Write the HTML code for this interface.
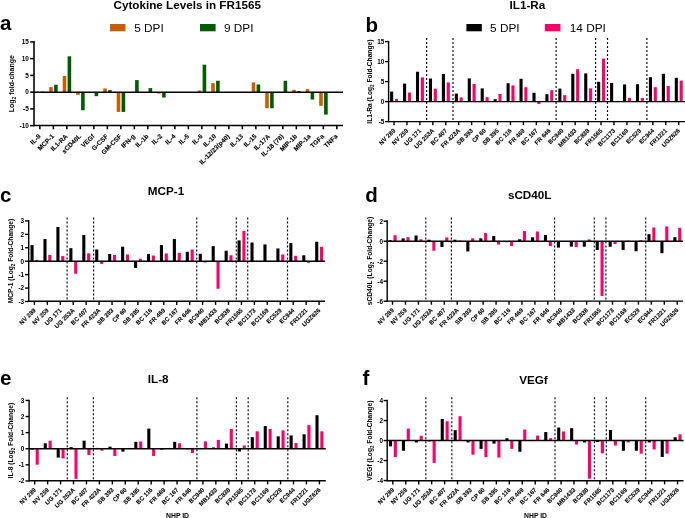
<!DOCTYPE html>
<html><head><meta charset="utf-8"><style>
html,body{margin:0;padding:0;background:#fff;width:685px;height:518px;overflow:hidden}
svg{display:block;font-family:"Liberation Sans", sans-serif;will-change:transform}
.xl{stroke:#000;stroke-width:0.1px}
</style></head><body>
<svg width="685" height="518" viewBox="0 0 685 518">
<rect width="685" height="518" fill="#fff"/>
<rect x="35.70" y="91.65" width="3.60" height="0.50" fill="#c46000"/>
<rect x="40.60" y="91.65" width="3.60" height="0.50" fill="#005a00"/>
<rect x="49.20" y="87.12" width="3.60" height="5.03" fill="#c46000"/>
<rect x="54.10" y="84.78" width="3.60" height="7.37" fill="#005a00"/>
<rect x="62.70" y="75.90" width="3.60" height="16.25" fill="#c46000"/>
<rect x="67.60" y="56.31" width="3.60" height="35.84" fill="#005a00"/>
<rect x="76.20" y="92.15" width="3.60" height="2.68" fill="#c46000"/>
<rect x="81.10" y="92.15" width="3.60" height="18.09" fill="#005a00"/>
<rect x="89.70" y="92.15" width="3.60" height="0.00" fill="#c46000"/>
<rect x="94.60" y="92.15" width="3.60" height="4.02" fill="#005a00"/>
<rect x="103.20" y="88.47" width="3.60" height="3.69" fill="#c46000"/>
<rect x="108.10" y="90.14" width="3.60" height="2.01" fill="#005a00"/>
<rect x="116.70" y="92.15" width="3.60" height="19.77" fill="#c46000"/>
<rect x="121.60" y="92.15" width="3.60" height="19.77" fill="#005a00"/>
<rect x="130.20" y="92.15" width="3.60" height="0.00" fill="#c46000"/>
<rect x="135.10" y="80.09" width="3.60" height="12.06" fill="#005a00"/>
<rect x="143.70" y="92.15" width="3.60" height="0.00" fill="#c46000"/>
<rect x="148.60" y="88.13" width="3.60" height="4.02" fill="#005a00"/>
<rect x="157.20" y="92.15" width="3.60" height="1.34" fill="#c46000"/>
<rect x="162.10" y="92.15" width="3.60" height="5.36" fill="#005a00"/>
<rect x="170.70" y="92.15" width="3.60" height="0.00" fill="#c46000"/>
<rect x="175.60" y="92.15" width="3.60" height="0.00" fill="#005a00"/>
<rect x="184.20" y="92.15" width="3.60" height="0.00" fill="#c46000"/>
<rect x="189.10" y="92.15" width="3.60" height="0.00" fill="#005a00"/>
<rect x="197.70" y="90.48" width="3.60" height="1.68" fill="#c46000"/>
<rect x="202.60" y="64.68" width="3.60" height="27.47" fill="#005a00"/>
<rect x="211.20" y="83.11" width="3.60" height="9.05" fill="#c46000"/>
<rect x="216.10" y="80.76" width="3.60" height="11.39" fill="#005a00"/>
<rect x="224.70" y="92.15" width="3.60" height="0.00" fill="#c46000"/>
<rect x="229.60" y="92.15" width="3.60" height="0.00" fill="#005a00"/>
<rect x="238.20" y="92.15" width="3.60" height="0.00" fill="#c46000"/>
<rect x="243.10" y="92.15" width="3.60" height="0.00" fill="#005a00"/>
<rect x="251.70" y="82.44" width="3.60" height="9.71" fill="#c46000"/>
<rect x="256.60" y="84.45" width="3.60" height="7.70" fill="#005a00"/>
<rect x="265.20" y="92.15" width="3.60" height="16.08" fill="#c46000"/>
<rect x="270.10" y="92.15" width="3.60" height="16.08" fill="#005a00"/>
<rect x="278.70" y="92.15" width="3.60" height="0.00" fill="#c46000"/>
<rect x="283.60" y="80.76" width="3.60" height="11.39" fill="#005a00"/>
<rect x="292.20" y="89.81" width="3.60" height="2.34" fill="#c46000"/>
<rect x="297.10" y="91.15" width="3.60" height="1.00" fill="#005a00"/>
<rect x="305.70" y="89.14" width="3.60" height="3.02" fill="#c46000"/>
<rect x="310.60" y="92.15" width="3.60" height="7.37" fill="#005a00"/>
<rect x="319.20" y="92.15" width="3.60" height="13.73" fill="#c46000"/>
<rect x="324.10" y="92.15" width="3.60" height="22.45" fill="#005a00"/>
<rect x="332.70" y="92.15" width="3.60" height="0.00" fill="#c46000"/>
<rect x="337.60" y="92.15" width="3.60" height="0.00" fill="#005a00"/>
<line x1="34.00" y1="41.08" x2="34.00" y2="126.28" stroke="#000" stroke-width="1.55" />
<line x1="34.00" y1="125.50" x2="343.00" y2="125.50" stroke="#000" stroke-width="1.55" />
<line x1="34.00" y1="92.15" x2="343.00" y2="92.15" stroke="#000" stroke-width="1.55" />
<line x1="30.20" y1="41.90" x2="34.00" y2="41.90" stroke="#000" stroke-width="1.55" />
<text x="28.80" y="44.20" font-size="6.4" font-weight="bold" text-anchor="end" >15</text>
<line x1="30.20" y1="58.65" x2="34.00" y2="58.65" stroke="#000" stroke-width="1.55" />
<text x="28.80" y="60.95" font-size="6.4" font-weight="bold" text-anchor="end" >10</text>
<line x1="30.20" y1="75.40" x2="34.00" y2="75.40" stroke="#000" stroke-width="1.55" />
<text x="28.80" y="77.70" font-size="6.4" font-weight="bold" text-anchor="end" >5</text>
<line x1="30.20" y1="92.15" x2="34.00" y2="92.15" stroke="#000" stroke-width="1.55" />
<text x="28.80" y="94.45" font-size="6.4" font-weight="bold" text-anchor="end" >0</text>
<line x1="30.20" y1="108.90" x2="34.00" y2="108.90" stroke="#000" stroke-width="1.55" />
<text x="28.80" y="111.20" font-size="6.4" font-weight="bold" text-anchor="end" >-5</text>
<line x1="30.20" y1="125.65" x2="34.00" y2="125.65" stroke="#000" stroke-width="1.55" />
<text x="28.80" y="127.95" font-size="6.4" font-weight="bold" text-anchor="end" >-10</text>
<line x1="39.85" y1="125.50" x2="39.85" y2="129.30" stroke="#000" stroke-width="1.55" />
<text x="41.05" y="136.80" font-size="6.5" font-weight="bold" text-anchor="end" class="xl" transform="rotate(-45 41.05 136.80)">IL-8</text>
<line x1="53.35" y1="125.50" x2="53.35" y2="129.30" stroke="#000" stroke-width="1.55" />
<text x="54.55" y="136.80" font-size="6.5" font-weight="bold" text-anchor="end" class="xl" transform="rotate(-45 54.55 136.80)">MCP-1</text>
<line x1="66.85" y1="125.50" x2="66.85" y2="129.30" stroke="#000" stroke-width="1.55" />
<text x="68.05" y="136.80" font-size="6.5" font-weight="bold" text-anchor="end" class="xl" transform="rotate(-45 68.05 136.80)">IL1-RA</text>
<line x1="80.35" y1="125.50" x2="80.35" y2="129.30" stroke="#000" stroke-width="1.55" />
<text x="81.55" y="136.80" font-size="6.5" font-weight="bold" text-anchor="end" class="xl" transform="rotate(-45 81.55 136.80)">sCD40L</text>
<line x1="93.85" y1="125.50" x2="93.85" y2="129.30" stroke="#000" stroke-width="1.55" />
<text x="95.05" y="136.80" font-size="6.5" font-weight="bold" text-anchor="end" class="xl" transform="rotate(-45 95.05 136.80)">VEGf</text>
<line x1="107.35" y1="125.50" x2="107.35" y2="129.30" stroke="#000" stroke-width="1.55" />
<text x="108.55" y="136.80" font-size="6.5" font-weight="bold" text-anchor="end" class="xl" transform="rotate(-45 108.55 136.80)">G-CSF</text>
<line x1="120.85" y1="125.50" x2="120.85" y2="129.30" stroke="#000" stroke-width="1.55" />
<text x="122.05" y="136.80" font-size="6.5" font-weight="bold" text-anchor="end" class="xl" transform="rotate(-45 122.05 136.80)">GM-CSF</text>
<line x1="134.35" y1="125.50" x2="134.35" y2="129.30" stroke="#000" stroke-width="1.55" />
<text x="135.55" y="136.80" font-size="6.5" font-weight="bold" text-anchor="end" class="xl" transform="rotate(-45 135.55 136.80)">IFN-g</text>
<line x1="147.85" y1="125.50" x2="147.85" y2="129.30" stroke="#000" stroke-width="1.55" />
<text x="149.05" y="136.80" font-size="6.5" font-weight="bold" text-anchor="end" class="xl" transform="rotate(-45 149.05 136.80)">IL-1b</text>
<line x1="161.35" y1="125.50" x2="161.35" y2="129.30" stroke="#000" stroke-width="1.55" />
<text x="162.55" y="136.80" font-size="6.5" font-weight="bold" text-anchor="end" class="xl" transform="rotate(-45 162.55 136.80)">IL-2</text>
<line x1="174.85" y1="125.50" x2="174.85" y2="129.30" stroke="#000" stroke-width="1.55" />
<text x="176.05" y="136.80" font-size="6.5" font-weight="bold" text-anchor="end" class="xl" transform="rotate(-45 176.05 136.80)">IL-4</text>
<line x1="188.35" y1="125.50" x2="188.35" y2="129.30" stroke="#000" stroke-width="1.55" />
<text x="189.55" y="136.80" font-size="6.5" font-weight="bold" text-anchor="end" class="xl" transform="rotate(-45 189.55 136.80)">IL-5</text>
<line x1="201.85" y1="125.50" x2="201.85" y2="129.30" stroke="#000" stroke-width="1.55" />
<text x="203.05" y="136.80" font-size="6.5" font-weight="bold" text-anchor="end" class="xl" transform="rotate(-45 203.05 136.80)">IL-6</text>
<line x1="215.35" y1="125.50" x2="215.35" y2="129.30" stroke="#000" stroke-width="1.55" />
<text x="216.55" y="136.80" font-size="6.5" font-weight="bold" text-anchor="end" class="xl" transform="rotate(-45 216.55 136.80)">IL-10</text>
<line x1="228.85" y1="125.50" x2="228.85" y2="129.30" stroke="#000" stroke-width="1.55" />
<text x="230.05" y="136.80" font-size="6.5" font-weight="bold" text-anchor="end" class="xl" transform="rotate(-45 230.05 136.80)">IL-12/23(p40)</text>
<line x1="242.35" y1="125.50" x2="242.35" y2="129.30" stroke="#000" stroke-width="1.55" />
<text x="243.55" y="136.80" font-size="6.5" font-weight="bold" text-anchor="end" class="xl" transform="rotate(-45 243.55 136.80)">IL-13</text>
<line x1="255.85" y1="125.50" x2="255.85" y2="129.30" stroke="#000" stroke-width="1.55" />
<text x="257.05" y="136.80" font-size="6.5" font-weight="bold" text-anchor="end" class="xl" transform="rotate(-45 257.05 136.80)">IL-15</text>
<line x1="269.35" y1="125.50" x2="269.35" y2="129.30" stroke="#000" stroke-width="1.55" />
<text x="270.55" y="136.80" font-size="6.5" font-weight="bold" text-anchor="end" class="xl" transform="rotate(-45 270.55 136.80)">IL-17A</text>
<line x1="282.85" y1="125.50" x2="282.85" y2="129.30" stroke="#000" stroke-width="1.55" />
<text x="284.05" y="136.80" font-size="6.5" font-weight="bold" text-anchor="end" class="xl" transform="rotate(-45 284.05 136.80)">IL-18 (78)</text>
<line x1="296.35" y1="125.50" x2="296.35" y2="129.30" stroke="#000" stroke-width="1.55" />
<text x="297.55" y="136.80" font-size="6.5" font-weight="bold" text-anchor="end" class="xl" transform="rotate(-45 297.55 136.80)">MIP-1b</text>
<line x1="309.85" y1="125.50" x2="309.85" y2="129.30" stroke="#000" stroke-width="1.55" />
<text x="311.05" y="136.80" font-size="6.5" font-weight="bold" text-anchor="end" class="xl" transform="rotate(-45 311.05 136.80)">MIP-1a</text>
<line x1="323.35" y1="125.50" x2="323.35" y2="129.30" stroke="#000" stroke-width="1.55" />
<text x="324.55" y="136.80" font-size="6.5" font-weight="bold" text-anchor="end" class="xl" transform="rotate(-45 324.55 136.80)">TGFa</text>
<line x1="336.85" y1="125.50" x2="336.85" y2="129.30" stroke="#000" stroke-width="1.55" />
<text x="338.05" y="136.80" font-size="6.5" font-weight="bold" text-anchor="end" class="xl" transform="rotate(-45 338.05 136.80)">TNFa</text>
<text x="14.00" y="83.67" font-size="7.0" font-weight="bold" text-anchor="middle" transform="rotate(-90 14.00 83.67)">Log<tspan font-size="4.9" dy="2.1">2</tspan><tspan dy="-2.1"> fold-change</tspan></text>
<rect x="390.10" y="91.60" width="3.10" height="10.00" fill="#000000"/>
<rect x="394.95" y="99.00" width="3.10" height="2.60" fill="#ff0066"/>
<rect x="403.04" y="83.60" width="3.10" height="18.00" fill="#000000"/>
<rect x="407.89" y="92.56" width="3.10" height="9.04" fill="#ff0066"/>
<rect x="415.98" y="71.76" width="3.10" height="29.84" fill="#000000"/>
<rect x="420.83" y="77.40" width="3.10" height="24.20" fill="#ff0066"/>
<rect x="428.92" y="78.52" width="3.10" height="23.08" fill="#000000"/>
<rect x="433.77" y="88.68" width="3.10" height="12.92" fill="#ff0066"/>
<rect x="441.86" y="74.00" width="3.10" height="27.60" fill="#000000"/>
<rect x="446.71" y="82.40" width="3.10" height="19.20" fill="#ff0066"/>
<rect x="454.80" y="93.60" width="3.10" height="8.00" fill="#000000"/>
<rect x="459.65" y="97.40" width="3.10" height="4.20" fill="#ff0066"/>
<rect x="467.74" y="78.40" width="3.10" height="23.20" fill="#000000"/>
<rect x="472.59" y="84.00" width="3.10" height="17.60" fill="#ff0066"/>
<rect x="480.68" y="88.40" width="3.10" height="13.20" fill="#000000"/>
<rect x="485.53" y="97.20" width="3.10" height="4.40" fill="#ff0066"/>
<rect x="493.62" y="99.20" width="3.10" height="2.40" fill="#000000"/>
<rect x="498.47" y="94.00" width="3.10" height="7.60" fill="#ff0066"/>
<rect x="506.56" y="83.20" width="3.10" height="18.40" fill="#000000"/>
<rect x="511.41" y="85.40" width="3.10" height="16.20" fill="#ff0066"/>
<rect x="519.50" y="78.80" width="3.10" height="22.80" fill="#000000"/>
<rect x="524.35" y="87.20" width="3.10" height="14.40" fill="#ff0066"/>
<rect x="532.44" y="92.80" width="3.10" height="8.80" fill="#000000"/>
<rect x="537.29" y="101.60" width="3.10" height="2.40" fill="#ff0066"/>
<rect x="545.38" y="94.20" width="3.10" height="7.40" fill="#000000"/>
<rect x="550.23" y="90.20" width="3.10" height="11.40" fill="#ff0066"/>
<rect x="558.32" y="88.60" width="3.10" height="13.00" fill="#000000"/>
<rect x="563.17" y="95.20" width="3.10" height="6.40" fill="#ff0066"/>
<rect x="571.26" y="73.80" width="3.10" height="27.80" fill="#000000"/>
<rect x="576.11" y="69.20" width="3.10" height="32.40" fill="#ff0066"/>
<rect x="584.20" y="73.40" width="3.10" height="28.20" fill="#000000"/>
<rect x="589.05" y="88.40" width="3.10" height="13.20" fill="#ff0066"/>
<rect x="597.14" y="81.80" width="3.10" height="19.80" fill="#000000"/>
<rect x="601.99" y="58.60" width="3.10" height="43.00" fill="#ff0066"/>
<rect x="610.08" y="83.00" width="3.10" height="18.60" fill="#000000"/>
<rect x="614.93" y="101.60" width="3.10" height="0.48" fill="#ff0066"/>
<rect x="623.02" y="84.40" width="3.10" height="17.20" fill="#000000"/>
<rect x="627.87" y="97.80" width="3.10" height="3.80" fill="#ff0066"/>
<rect x="635.96" y="84.20" width="3.10" height="17.40" fill="#000000"/>
<rect x="640.81" y="98.00" width="3.10" height="3.60" fill="#ff0066"/>
<rect x="648.90" y="77.20" width="3.10" height="24.40" fill="#000000"/>
<rect x="653.75" y="87.20" width="3.10" height="14.40" fill="#ff0066"/>
<rect x="661.84" y="73.80" width="3.10" height="27.80" fill="#000000"/>
<rect x="666.69" y="86.00" width="3.10" height="15.60" fill="#ff0066"/>
<rect x="674.78" y="77.80" width="3.10" height="23.80" fill="#000000"/>
<rect x="679.63" y="80.60" width="3.10" height="21.00" fill="#ff0066"/>
<line x1="426.60" y1="38.00" x2="426.60" y2="121.60" stroke="#111" stroke-width="1.2" stroke-dasharray="2 2"/>
<line x1="453.00" y1="38.00" x2="453.00" y2="121.60" stroke="#111" stroke-width="1.2" stroke-dasharray="2 2"/>
<line x1="556.10" y1="38.00" x2="556.10" y2="121.60" stroke="#111" stroke-width="1.2" stroke-dasharray="2 2"/>
<line x1="595.60" y1="38.00" x2="595.60" y2="121.60" stroke="#111" stroke-width="1.2" stroke-dasharray="2 2"/>
<line x1="607.50" y1="38.00" x2="607.50" y2="121.60" stroke="#111" stroke-width="1.2" stroke-dasharray="2 2"/>
<line x1="646.90" y1="38.00" x2="646.90" y2="121.60" stroke="#111" stroke-width="1.2" stroke-dasharray="2 2"/>
<line x1="388.60" y1="40.90" x2="388.60" y2="122.30" stroke="#000" stroke-width="1.4" />
<line x1="388.60" y1="121.60" x2="685.00" y2="121.60" stroke="#000" stroke-width="1.4" />
<line x1="388.60" y1="101.60" x2="685.00" y2="101.60" stroke="#000" stroke-width="1.4" />
<line x1="385.00" y1="41.60" x2="388.60" y2="41.60" stroke="#000" stroke-width="1.4" />
<text x="384.40" y="43.90" font-size="6.4" font-weight="bold" text-anchor="end" >15</text>
<line x1="385.00" y1="61.60" x2="388.60" y2="61.60" stroke="#000" stroke-width="1.4" />
<text x="384.40" y="63.90" font-size="6.4" font-weight="bold" text-anchor="end" >10</text>
<line x1="385.00" y1="81.60" x2="388.60" y2="81.60" stroke="#000" stroke-width="1.4" />
<text x="384.40" y="83.90" font-size="6.4" font-weight="bold" text-anchor="end" >5</text>
<line x1="385.00" y1="101.60" x2="388.60" y2="101.60" stroke="#000" stroke-width="1.4" />
<text x="384.40" y="103.90" font-size="6.4" font-weight="bold" text-anchor="end" >0</text>
<line x1="385.00" y1="121.60" x2="388.60" y2="121.60" stroke="#000" stroke-width="1.4" />
<text x="384.40" y="123.90" font-size="6.4" font-weight="bold" text-anchor="end" >-5</text>
<line x1="394.00" y1="121.60" x2="394.00" y2="125.20" stroke="#000" stroke-width="1.4" />
<text x="395.80" y="131.10" font-size="6.1" font-weight="bold" text-anchor="end" class="xl" transform="rotate(-45 395.80 131.10)">NV 289</text>
<line x1="406.94" y1="121.60" x2="406.94" y2="125.20" stroke="#000" stroke-width="1.4" />
<text x="408.74" y="131.10" font-size="6.1" font-weight="bold" text-anchor="end" class="xl" transform="rotate(-45 408.74 131.10)">NV 259</text>
<line x1="419.88" y1="121.60" x2="419.88" y2="125.20" stroke="#000" stroke-width="1.4" />
<text x="421.68" y="131.10" font-size="6.1" font-weight="bold" text-anchor="end" class="xl" transform="rotate(-45 421.68 131.10)">UG 171</text>
<line x1="432.82" y1="121.60" x2="432.82" y2="125.20" stroke="#000" stroke-width="1.4" />
<text x="434.62" y="131.10" font-size="6.1" font-weight="bold" text-anchor="end" class="xl" transform="rotate(-45 434.62 131.10)">UG 253A</text>
<line x1="445.76" y1="121.60" x2="445.76" y2="125.20" stroke="#000" stroke-width="1.4" />
<text x="447.56" y="131.10" font-size="6.1" font-weight="bold" text-anchor="end" class="xl" transform="rotate(-45 447.56 131.10)">BC 407</text>
<line x1="458.70" y1="121.60" x2="458.70" y2="125.20" stroke="#000" stroke-width="1.4" />
<text x="460.50" y="131.10" font-size="6.1" font-weight="bold" text-anchor="end" class="xl" transform="rotate(-45 460.50 131.10)">FR 423A</text>
<line x1="471.64" y1="121.60" x2="471.64" y2="125.20" stroke="#000" stroke-width="1.4" />
<text x="473.44" y="131.10" font-size="6.1" font-weight="bold" text-anchor="end" class="xl" transform="rotate(-45 473.44 131.10)">SB 393</text>
<line x1="484.58" y1="121.60" x2="484.58" y2="125.20" stroke="#000" stroke-width="1.4" />
<text x="486.38" y="131.10" font-size="6.1" font-weight="bold" text-anchor="end" class="xl" transform="rotate(-45 486.38 131.10)">CP 60</text>
<line x1="497.52" y1="121.60" x2="497.52" y2="125.20" stroke="#000" stroke-width="1.4" />
<text x="499.32" y="131.10" font-size="6.1" font-weight="bold" text-anchor="end" class="xl" transform="rotate(-45 499.32 131.10)">SB 395</text>
<line x1="510.46" y1="121.60" x2="510.46" y2="125.20" stroke="#000" stroke-width="1.4" />
<text x="512.26" y="131.10" font-size="6.1" font-weight="bold" text-anchor="end" class="xl" transform="rotate(-45 512.26 131.10)">BC 116</text>
<line x1="523.40" y1="121.60" x2="523.40" y2="125.20" stroke="#000" stroke-width="1.4" />
<text x="525.20" y="131.10" font-size="6.1" font-weight="bold" text-anchor="end" class="xl" transform="rotate(-45 525.20 131.10)">FR 469</text>
<line x1="536.34" y1="121.60" x2="536.34" y2="125.20" stroke="#000" stroke-width="1.4" />
<text x="538.14" y="131.10" font-size="6.1" font-weight="bold" text-anchor="end" class="xl" transform="rotate(-45 538.14 131.10)">BC 167</text>
<line x1="549.28" y1="121.60" x2="549.28" y2="125.20" stroke="#000" stroke-width="1.4" />
<text x="551.08" y="131.10" font-size="6.1" font-weight="bold" text-anchor="end" class="xl" transform="rotate(-45 551.08 131.10)">FR 646</text>
<line x1="562.22" y1="121.60" x2="562.22" y2="125.20" stroke="#000" stroke-width="1.4" />
<text x="564.02" y="131.10" font-size="6.1" font-weight="bold" text-anchor="end" class="xl" transform="rotate(-45 564.02 131.10)">BC940</text>
<line x1="575.16" y1="121.60" x2="575.16" y2="125.20" stroke="#000" stroke-width="1.4" />
<text x="576.96" y="131.10" font-size="6.1" font-weight="bold" text-anchor="end" class="xl" transform="rotate(-45 576.96 131.10)">MB1433</text>
<line x1="588.10" y1="121.60" x2="588.10" y2="125.20" stroke="#000" stroke-width="1.4" />
<text x="589.90" y="131.10" font-size="6.1" font-weight="bold" text-anchor="end" class="xl" transform="rotate(-45 589.90 131.10)">BC838</text>
<line x1="601.04" y1="121.60" x2="601.04" y2="125.20" stroke="#000" stroke-width="1.4" />
<text x="602.84" y="131.10" font-size="6.1" font-weight="bold" text-anchor="end" class="xl" transform="rotate(-45 602.84 131.10)">FR1565</text>
<line x1="613.98" y1="121.60" x2="613.98" y2="125.20" stroke="#000" stroke-width="1.4" />
<text x="615.78" y="131.10" font-size="6.1" font-weight="bold" text-anchor="end" class="xl" transform="rotate(-45 615.78 131.10)">BC1173</text>
<line x1="626.92" y1="121.60" x2="626.92" y2="125.20" stroke="#000" stroke-width="1.4" />
<text x="628.72" y="131.10" font-size="6.1" font-weight="bold" text-anchor="end" class="xl" transform="rotate(-45 628.72 131.10)">BC1169</text>
<line x1="639.86" y1="121.60" x2="639.86" y2="125.20" stroke="#000" stroke-width="1.4" />
<text x="641.66" y="131.10" font-size="6.1" font-weight="bold" text-anchor="end" class="xl" transform="rotate(-45 641.66 131.10)">EC529</text>
<line x1="652.80" y1="121.60" x2="652.80" y2="125.20" stroke="#000" stroke-width="1.4" />
<text x="654.60" y="131.10" font-size="6.1" font-weight="bold" text-anchor="end" class="xl" transform="rotate(-45 654.60 131.10)">EC944</text>
<line x1="665.74" y1="121.60" x2="665.74" y2="125.20" stroke="#000" stroke-width="1.4" />
<text x="667.54" y="131.10" font-size="6.1" font-weight="bold" text-anchor="end" class="xl" transform="rotate(-45 667.54 131.10)">FR1221</text>
<line x1="678.68" y1="121.60" x2="678.68" y2="125.20" stroke="#000" stroke-width="1.4" />
<text x="680.48" y="131.10" font-size="6.1" font-weight="bold" text-anchor="end" class="xl" transform="rotate(-45 680.48 131.10)">UGZ626</text>
<text x="372.00" y="81.60" font-size="6.7" font-weight="bold" text-anchor="middle" transform="rotate(-90 372.00 81.60)">IL1-Ra (Log<tspan font-size="4.42" dy="2.28">2</tspan><tspan dy="-2.28"> Fold-Change)</tspan></text>
<rect x="30.50" y="245.08" width="3.10" height="16.12" fill="#000000"/>
<rect x="35.35" y="259.86" width="3.10" height="1.34" fill="#ff0066"/>
<rect x="43.44" y="239.04" width="3.10" height="22.16" fill="#000000"/>
<rect x="48.29" y="255.02" width="3.10" height="6.18" fill="#ff0066"/>
<rect x="56.38" y="226.95" width="3.10" height="34.25" fill="#000000"/>
<rect x="61.23" y="256.10" width="3.10" height="5.10" fill="#ff0066"/>
<rect x="69.32" y="248.17" width="3.10" height="13.03" fill="#000000"/>
<rect x="74.17" y="261.20" width="3.10" height="12.49" fill="#ff0066"/>
<rect x="82.26" y="235.01" width="3.10" height="26.19" fill="#000000"/>
<rect x="87.11" y="253.41" width="3.10" height="7.79" fill="#ff0066"/>
<rect x="95.20" y="249.52" width="3.10" height="11.68" fill="#000000"/>
<rect x="100.05" y="261.20" width="3.10" height="2.69" fill="#ff0066"/>
<rect x="108.14" y="253.95" width="3.10" height="7.25" fill="#000000"/>
<rect x="112.99" y="255.02" width="3.10" height="6.18" fill="#ff0066"/>
<rect x="121.08" y="246.70" width="3.10" height="14.50" fill="#000000"/>
<rect x="125.93" y="254.48" width="3.10" height="6.71" fill="#ff0066"/>
<rect x="134.02" y="261.20" width="3.10" height="6.71" fill="#000000"/>
<rect x="138.87" y="258.78" width="3.10" height="2.42" fill="#ff0066"/>
<rect x="146.96" y="253.95" width="3.10" height="7.25" fill="#000000"/>
<rect x="151.81" y="255.56" width="3.10" height="5.64" fill="#ff0066"/>
<rect x="159.90" y="245.08" width="3.10" height="16.12" fill="#000000"/>
<rect x="164.75" y="253.41" width="3.10" height="7.79" fill="#ff0066"/>
<rect x="172.84" y="239.04" width="3.10" height="22.16" fill="#000000"/>
<rect x="177.69" y="252.87" width="3.10" height="8.33" fill="#ff0066"/>
<rect x="185.78" y="251.80" width="3.10" height="9.40" fill="#000000"/>
<rect x="190.63" y="249.52" width="3.10" height="11.68" fill="#ff0066"/>
<rect x="198.72" y="253.81" width="3.10" height="7.39" fill="#000000"/>
<rect x="203.57" y="261.20" width="3.10" height="1.34" fill="#ff0066"/>
<rect x="211.66" y="246.16" width="3.10" height="15.04" fill="#000000"/>
<rect x="216.51" y="261.20" width="3.10" height="27.53" fill="#ff0066"/>
<rect x="224.60" y="250.72" width="3.10" height="10.48" fill="#000000"/>
<rect x="229.45" y="255.29" width="3.10" height="5.91" fill="#ff0066"/>
<rect x="237.54" y="240.38" width="3.10" height="20.82" fill="#000000"/>
<rect x="242.39" y="230.98" width="3.10" height="30.22" fill="#ff0066"/>
<rect x="250.48" y="242.53" width="3.10" height="18.67" fill="#000000"/>
<rect x="255.33" y="260.93" width="3.10" height="0.27" fill="#ff0066"/>
<rect x="263.42" y="244.41" width="3.10" height="16.79" fill="#000000"/>
<rect x="268.27" y="260.93" width="3.10" height="0.27" fill="#ff0066"/>
<rect x="276.36" y="248.44" width="3.10" height="12.76" fill="#000000"/>
<rect x="281.21" y="254.48" width="3.10" height="6.71" fill="#ff0066"/>
<rect x="289.30" y="243.07" width="3.10" height="18.13" fill="#000000"/>
<rect x="294.15" y="255.83" width="3.10" height="5.37" fill="#ff0066"/>
<rect x="302.24" y="255.29" width="3.10" height="5.91" fill="#000000"/>
<rect x="307.09" y="261.20" width="3.10" height="1.61" fill="#ff0066"/>
<rect x="315.18" y="241.73" width="3.10" height="19.47" fill="#000000"/>
<rect x="320.03" y="246.83" width="3.10" height="14.37" fill="#ff0066"/>
<line x1="67.10" y1="217.50" x2="67.10" y2="301.30" stroke="#111" stroke-width="1.2" stroke-dasharray="2 2"/>
<line x1="93.60" y1="217.50" x2="93.60" y2="301.30" stroke="#111" stroke-width="1.2" stroke-dasharray="2 2"/>
<line x1="196.70" y1="217.50" x2="196.70" y2="301.30" stroke="#111" stroke-width="1.2" stroke-dasharray="2 2"/>
<line x1="236.30" y1="217.50" x2="236.30" y2="301.30" stroke="#111" stroke-width="1.2" stroke-dasharray="2 2"/>
<line x1="247.70" y1="217.50" x2="247.70" y2="301.30" stroke="#111" stroke-width="1.2" stroke-dasharray="2 2"/>
<line x1="287.50" y1="217.50" x2="287.50" y2="301.30" stroke="#111" stroke-width="1.2" stroke-dasharray="2 2"/>
<line x1="28.70" y1="220.10" x2="28.70" y2="302.00" stroke="#000" stroke-width="1.4" />
<line x1="28.70" y1="301.30" x2="325.00" y2="301.30" stroke="#000" stroke-width="1.4" />
<line x1="28.70" y1="261.20" x2="325.00" y2="261.20" stroke="#000" stroke-width="1.4" />
<line x1="25.10" y1="220.91" x2="28.70" y2="220.91" stroke="#000" stroke-width="1.4" />
<text x="24.10" y="223.21" font-size="6.4" font-weight="bold" text-anchor="end" >3</text>
<line x1="25.10" y1="234.34" x2="28.70" y2="234.34" stroke="#000" stroke-width="1.4" />
<text x="24.10" y="236.64" font-size="6.4" font-weight="bold" text-anchor="end" >2</text>
<line x1="25.10" y1="247.77" x2="28.70" y2="247.77" stroke="#000" stroke-width="1.4" />
<text x="24.10" y="250.07" font-size="6.4" font-weight="bold" text-anchor="end" >1</text>
<line x1="25.10" y1="261.20" x2="28.70" y2="261.20" stroke="#000" stroke-width="1.4" />
<text x="24.10" y="263.50" font-size="6.4" font-weight="bold" text-anchor="end" >0</text>
<line x1="25.10" y1="274.63" x2="28.70" y2="274.63" stroke="#000" stroke-width="1.4" />
<text x="24.10" y="276.93" font-size="6.4" font-weight="bold" text-anchor="end" >-1</text>
<line x1="25.10" y1="288.06" x2="28.70" y2="288.06" stroke="#000" stroke-width="1.4" />
<text x="24.10" y="290.36" font-size="6.4" font-weight="bold" text-anchor="end" >-2</text>
<line x1="25.10" y1="301.49" x2="28.70" y2="301.49" stroke="#000" stroke-width="1.4" />
<text x="24.10" y="303.79" font-size="6.4" font-weight="bold" text-anchor="end" >-3</text>
<line x1="34.40" y1="301.30" x2="34.40" y2="304.90" stroke="#000" stroke-width="1.4" />
<text x="36.20" y="310.80" font-size="6.1" font-weight="bold" text-anchor="end" class="xl" transform="rotate(-45 36.20 310.80)">NV 289</text>
<line x1="47.34" y1="301.30" x2="47.34" y2="304.90" stroke="#000" stroke-width="1.4" />
<text x="49.14" y="310.80" font-size="6.1" font-weight="bold" text-anchor="end" class="xl" transform="rotate(-45 49.14 310.80)">NV 259</text>
<line x1="60.28" y1="301.30" x2="60.28" y2="304.90" stroke="#000" stroke-width="1.4" />
<text x="62.08" y="310.80" font-size="6.1" font-weight="bold" text-anchor="end" class="xl" transform="rotate(-45 62.08 310.80)">UG 171</text>
<line x1="73.22" y1="301.30" x2="73.22" y2="304.90" stroke="#000" stroke-width="1.4" />
<text x="75.02" y="310.80" font-size="6.1" font-weight="bold" text-anchor="end" class="xl" transform="rotate(-45 75.02 310.80)">UG 253A</text>
<line x1="86.16" y1="301.30" x2="86.16" y2="304.90" stroke="#000" stroke-width="1.4" />
<text x="87.96" y="310.80" font-size="6.1" font-weight="bold" text-anchor="end" class="xl" transform="rotate(-45 87.96 310.80)">BC 407</text>
<line x1="99.10" y1="301.30" x2="99.10" y2="304.90" stroke="#000" stroke-width="1.4" />
<text x="100.90" y="310.80" font-size="6.1" font-weight="bold" text-anchor="end" class="xl" transform="rotate(-45 100.90 310.80)">FR 423A</text>
<line x1="112.04" y1="301.30" x2="112.04" y2="304.90" stroke="#000" stroke-width="1.4" />
<text x="113.84" y="310.80" font-size="6.1" font-weight="bold" text-anchor="end" class="xl" transform="rotate(-45 113.84 310.80)">SB 393</text>
<line x1="124.98" y1="301.30" x2="124.98" y2="304.90" stroke="#000" stroke-width="1.4" />
<text x="126.78" y="310.80" font-size="6.1" font-weight="bold" text-anchor="end" class="xl" transform="rotate(-45 126.78 310.80)">CP 60</text>
<line x1="137.92" y1="301.30" x2="137.92" y2="304.90" stroke="#000" stroke-width="1.4" />
<text x="139.72" y="310.80" font-size="6.1" font-weight="bold" text-anchor="end" class="xl" transform="rotate(-45 139.72 310.80)">SB 395</text>
<line x1="150.86" y1="301.30" x2="150.86" y2="304.90" stroke="#000" stroke-width="1.4" />
<text x="152.66" y="310.80" font-size="6.1" font-weight="bold" text-anchor="end" class="xl" transform="rotate(-45 152.66 310.80)">BC 116</text>
<line x1="163.80" y1="301.30" x2="163.80" y2="304.90" stroke="#000" stroke-width="1.4" />
<text x="165.60" y="310.80" font-size="6.1" font-weight="bold" text-anchor="end" class="xl" transform="rotate(-45 165.60 310.80)">FR 469</text>
<line x1="176.74" y1="301.30" x2="176.74" y2="304.90" stroke="#000" stroke-width="1.4" />
<text x="178.54" y="310.80" font-size="6.1" font-weight="bold" text-anchor="end" class="xl" transform="rotate(-45 178.54 310.80)">BC 167</text>
<line x1="189.68" y1="301.30" x2="189.68" y2="304.90" stroke="#000" stroke-width="1.4" />
<text x="191.48" y="310.80" font-size="6.1" font-weight="bold" text-anchor="end" class="xl" transform="rotate(-45 191.48 310.80)">FR 646</text>
<line x1="202.62" y1="301.30" x2="202.62" y2="304.90" stroke="#000" stroke-width="1.4" />
<text x="204.42" y="310.80" font-size="6.1" font-weight="bold" text-anchor="end" class="xl" transform="rotate(-45 204.42 310.80)">BC940</text>
<line x1="215.56" y1="301.30" x2="215.56" y2="304.90" stroke="#000" stroke-width="1.4" />
<text x="217.36" y="310.80" font-size="6.1" font-weight="bold" text-anchor="end" class="xl" transform="rotate(-45 217.36 310.80)">MB1433</text>
<line x1="228.50" y1="301.30" x2="228.50" y2="304.90" stroke="#000" stroke-width="1.4" />
<text x="230.30" y="310.80" font-size="6.1" font-weight="bold" text-anchor="end" class="xl" transform="rotate(-45 230.30 310.80)">BC838</text>
<line x1="241.44" y1="301.30" x2="241.44" y2="304.90" stroke="#000" stroke-width="1.4" />
<text x="243.24" y="310.80" font-size="6.1" font-weight="bold" text-anchor="end" class="xl" transform="rotate(-45 243.24 310.80)">FR1565</text>
<line x1="254.38" y1="301.30" x2="254.38" y2="304.90" stroke="#000" stroke-width="1.4" />
<text x="256.18" y="310.80" font-size="6.1" font-weight="bold" text-anchor="end" class="xl" transform="rotate(-45 256.18 310.80)">BC1173</text>
<line x1="267.32" y1="301.30" x2="267.32" y2="304.90" stroke="#000" stroke-width="1.4" />
<text x="269.12" y="310.80" font-size="6.1" font-weight="bold" text-anchor="end" class="xl" transform="rotate(-45 269.12 310.80)">BC1169</text>
<line x1="280.26" y1="301.30" x2="280.26" y2="304.90" stroke="#000" stroke-width="1.4" />
<text x="282.06" y="310.80" font-size="6.1" font-weight="bold" text-anchor="end" class="xl" transform="rotate(-45 282.06 310.80)">EC529</text>
<line x1="293.20" y1="301.30" x2="293.20" y2="304.90" stroke="#000" stroke-width="1.4" />
<text x="295.00" y="310.80" font-size="6.1" font-weight="bold" text-anchor="end" class="xl" transform="rotate(-45 295.00 310.80)">EC944</text>
<line x1="306.14" y1="301.30" x2="306.14" y2="304.90" stroke="#000" stroke-width="1.4" />
<text x="307.94" y="310.80" font-size="6.1" font-weight="bold" text-anchor="end" class="xl" transform="rotate(-45 307.94 310.80)">FR1221</text>
<line x1="319.08" y1="301.30" x2="319.08" y2="304.90" stroke="#000" stroke-width="1.4" />
<text x="320.88" y="310.80" font-size="6.1" font-weight="bold" text-anchor="end" class="xl" transform="rotate(-45 320.88 310.80)">UGZ626</text>
<text x="13.00" y="261.05" font-size="6.7" font-weight="bold" text-anchor="middle" transform="rotate(-90 13.00 261.05)">MCP-1 (Log<tspan font-size="4.42" dy="2.28">2</tspan><tspan dy="-2.28"> Fold-Change)</tspan></text>
<rect x="388.65" y="240.20" width="3.10" height="1.00" fill="#000000"/>
<rect x="393.50" y="235.20" width="3.10" height="6.00" fill="#ff0066"/>
<rect x="401.59" y="238.40" width="3.10" height="2.80" fill="#000000"/>
<rect x="406.44" y="237.20" width="3.10" height="4.00" fill="#ff0066"/>
<rect x="414.53" y="235.50" width="3.10" height="5.70" fill="#000000"/>
<rect x="419.38" y="239.30" width="3.10" height="1.90" fill="#ff0066"/>
<rect x="427.47" y="239.70" width="3.10" height="1.50" fill="#000000"/>
<rect x="432.32" y="241.20" width="3.10" height="9.50" fill="#ff0066"/>
<rect x="440.41" y="241.20" width="3.10" height="5.80" fill="#000000"/>
<rect x="445.26" y="237.40" width="3.10" height="3.80" fill="#ff0066"/>
<rect x="453.35" y="239.70" width="3.10" height="1.50" fill="#000000"/>
<rect x="458.20" y="240.50" width="3.10" height="0.70" fill="#ff0066"/>
<rect x="466.29" y="241.20" width="3.10" height="10.20" fill="#000000"/>
<rect x="471.14" y="238.30" width="3.10" height="2.90" fill="#ff0066"/>
<rect x="479.23" y="238.30" width="3.10" height="2.90" fill="#000000"/>
<rect x="484.08" y="233.10" width="3.10" height="8.10" fill="#ff0066"/>
<rect x="492.17" y="236.00" width="3.10" height="5.20" fill="#000000"/>
<rect x="497.02" y="241.20" width="3.10" height="3.30" fill="#ff0066"/>
<rect x="505.11" y="241.20" width="3.10" height="1.00" fill="#000000"/>
<rect x="509.96" y="241.20" width="3.10" height="4.80" fill="#ff0066"/>
<rect x="518.05" y="239.30" width="3.10" height="1.90" fill="#000000"/>
<rect x="522.90" y="231.10" width="3.10" height="10.10" fill="#ff0066"/>
<rect x="530.99" y="237.30" width="3.10" height="3.90" fill="#000000"/>
<rect x="535.84" y="231.50" width="3.10" height="9.70" fill="#ff0066"/>
<rect x="543.93" y="235.00" width="3.10" height="6.20" fill="#000000"/>
<rect x="548.78" y="241.20" width="3.10" height="4.80" fill="#ff0066"/>
<rect x="556.87" y="241.20" width="3.10" height="6.40" fill="#000000"/>
<rect x="561.72" y="241.20" width="3.10" height="0.50" fill="#ff0066"/>
<rect x="569.81" y="241.20" width="3.10" height="5.40" fill="#000000"/>
<rect x="574.66" y="241.20" width="3.10" height="5.80" fill="#ff0066"/>
<rect x="582.75" y="241.20" width="3.10" height="5.50" fill="#000000"/>
<rect x="587.60" y="239.40" width="3.10" height="1.80" fill="#ff0066"/>
<rect x="595.69" y="241.20" width="3.10" height="8.70" fill="#000000"/>
<rect x="600.54" y="241.20" width="3.10" height="54.70" fill="#ff0066"/>
<rect x="608.63" y="241.20" width="3.10" height="5.50" fill="#000000"/>
<rect x="613.48" y="241.20" width="3.10" height="2.80" fill="#ff0066"/>
<rect x="621.57" y="241.20" width="3.10" height="8.70" fill="#000000"/>
<rect x="626.42" y="240.70" width="3.10" height="0.50" fill="#ff0066"/>
<rect x="634.51" y="241.20" width="3.10" height="10.00" fill="#000000"/>
<rect x="639.36" y="240.20" width="3.10" height="1.00" fill="#ff0066"/>
<rect x="647.45" y="234.20" width="3.10" height="7.00" fill="#000000"/>
<rect x="652.30" y="227.50" width="3.10" height="13.70" fill="#ff0066"/>
<rect x="660.39" y="241.20" width="3.10" height="12.00" fill="#000000"/>
<rect x="665.24" y="226.40" width="3.10" height="14.80" fill="#ff0066"/>
<rect x="673.33" y="237.20" width="3.10" height="4.00" fill="#000000"/>
<rect x="678.18" y="227.80" width="3.10" height="13.40" fill="#ff0066"/>
<line x1="425.80" y1="217.50" x2="425.80" y2="301.10" stroke="#111" stroke-width="1.2" stroke-dasharray="2 2"/>
<line x1="451.40" y1="217.50" x2="451.40" y2="301.10" stroke="#111" stroke-width="1.2" stroke-dasharray="2 2"/>
<line x1="554.60" y1="217.50" x2="554.60" y2="301.10" stroke="#111" stroke-width="1.2" stroke-dasharray="2 2"/>
<line x1="594.30" y1="217.50" x2="594.30" y2="301.10" stroke="#111" stroke-width="1.2" stroke-dasharray="2 2"/>
<line x1="605.90" y1="217.50" x2="605.90" y2="301.10" stroke="#111" stroke-width="1.2" stroke-dasharray="2 2"/>
<line x1="645.70" y1="217.50" x2="645.70" y2="301.10" stroke="#111" stroke-width="1.2" stroke-dasharray="2 2"/>
<line x1="387.20" y1="220.20" x2="387.20" y2="301.80" stroke="#000" stroke-width="1.4" />
<line x1="387.20" y1="301.10" x2="683.00" y2="301.10" stroke="#000" stroke-width="1.4" />
<line x1="387.20" y1="241.20" x2="683.00" y2="241.20" stroke="#000" stroke-width="1.4" />
<line x1="383.60" y1="221.20" x2="387.20" y2="221.20" stroke="#000" stroke-width="1.4" />
<text x="383.00" y="223.50" font-size="6.4" font-weight="bold" text-anchor="end" >2</text>
<line x1="383.60" y1="241.20" x2="387.20" y2="241.20" stroke="#000" stroke-width="1.4" />
<text x="383.00" y="243.50" font-size="6.4" font-weight="bold" text-anchor="end" >0</text>
<line x1="383.60" y1="261.20" x2="387.20" y2="261.20" stroke="#000" stroke-width="1.4" />
<text x="383.00" y="263.50" font-size="6.4" font-weight="bold" text-anchor="end" >-2</text>
<line x1="383.60" y1="281.20" x2="387.20" y2="281.20" stroke="#000" stroke-width="1.4" />
<text x="383.00" y="283.50" font-size="6.4" font-weight="bold" text-anchor="end" >-4</text>
<line x1="383.60" y1="301.20" x2="387.20" y2="301.20" stroke="#000" stroke-width="1.4" />
<text x="383.00" y="303.50" font-size="6.4" font-weight="bold" text-anchor="end" >-6</text>
<line x1="392.55" y1="301.10" x2="392.55" y2="304.70" stroke="#000" stroke-width="1.4" />
<text x="394.35" y="310.60" font-size="6.1" font-weight="bold" text-anchor="end" class="xl" transform="rotate(-45 394.35 310.60)">NV 289</text>
<line x1="405.49" y1="301.10" x2="405.49" y2="304.70" stroke="#000" stroke-width="1.4" />
<text x="407.29" y="310.60" font-size="6.1" font-weight="bold" text-anchor="end" class="xl" transform="rotate(-45 407.29 310.60)">NV 259</text>
<line x1="418.43" y1="301.10" x2="418.43" y2="304.70" stroke="#000" stroke-width="1.4" />
<text x="420.23" y="310.60" font-size="6.1" font-weight="bold" text-anchor="end" class="xl" transform="rotate(-45 420.23 310.60)">UG 171</text>
<line x1="431.37" y1="301.10" x2="431.37" y2="304.70" stroke="#000" stroke-width="1.4" />
<text x="433.17" y="310.60" font-size="6.1" font-weight="bold" text-anchor="end" class="xl" transform="rotate(-45 433.17 310.60)">UG 253A</text>
<line x1="444.31" y1="301.10" x2="444.31" y2="304.70" stroke="#000" stroke-width="1.4" />
<text x="446.11" y="310.60" font-size="6.1" font-weight="bold" text-anchor="end" class="xl" transform="rotate(-45 446.11 310.60)">BC 407</text>
<line x1="457.25" y1="301.10" x2="457.25" y2="304.70" stroke="#000" stroke-width="1.4" />
<text x="459.05" y="310.60" font-size="6.1" font-weight="bold" text-anchor="end" class="xl" transform="rotate(-45 459.05 310.60)">FR 423A</text>
<line x1="470.19" y1="301.10" x2="470.19" y2="304.70" stroke="#000" stroke-width="1.4" />
<text x="471.99" y="310.60" font-size="6.1" font-weight="bold" text-anchor="end" class="xl" transform="rotate(-45 471.99 310.60)">SB 393</text>
<line x1="483.13" y1="301.10" x2="483.13" y2="304.70" stroke="#000" stroke-width="1.4" />
<text x="484.93" y="310.60" font-size="6.1" font-weight="bold" text-anchor="end" class="xl" transform="rotate(-45 484.93 310.60)">CP 60</text>
<line x1="496.07" y1="301.10" x2="496.07" y2="304.70" stroke="#000" stroke-width="1.4" />
<text x="497.87" y="310.60" font-size="6.1" font-weight="bold" text-anchor="end" class="xl" transform="rotate(-45 497.87 310.60)">SB 395</text>
<line x1="509.01" y1="301.10" x2="509.01" y2="304.70" stroke="#000" stroke-width="1.4" />
<text x="510.81" y="310.60" font-size="6.1" font-weight="bold" text-anchor="end" class="xl" transform="rotate(-45 510.81 310.60)">BC 116</text>
<line x1="521.95" y1="301.10" x2="521.95" y2="304.70" stroke="#000" stroke-width="1.4" />
<text x="523.75" y="310.60" font-size="6.1" font-weight="bold" text-anchor="end" class="xl" transform="rotate(-45 523.75 310.60)">FR 469</text>
<line x1="534.89" y1="301.10" x2="534.89" y2="304.70" stroke="#000" stroke-width="1.4" />
<text x="536.69" y="310.60" font-size="6.1" font-weight="bold" text-anchor="end" class="xl" transform="rotate(-45 536.69 310.60)">BC 167</text>
<line x1="547.83" y1="301.10" x2="547.83" y2="304.70" stroke="#000" stroke-width="1.4" />
<text x="549.63" y="310.60" font-size="6.1" font-weight="bold" text-anchor="end" class="xl" transform="rotate(-45 549.63 310.60)">FR 646</text>
<line x1="560.77" y1="301.10" x2="560.77" y2="304.70" stroke="#000" stroke-width="1.4" />
<text x="562.57" y="310.60" font-size="6.1" font-weight="bold" text-anchor="end" class="xl" transform="rotate(-45 562.57 310.60)">BC940</text>
<line x1="573.71" y1="301.10" x2="573.71" y2="304.70" stroke="#000" stroke-width="1.4" />
<text x="575.51" y="310.60" font-size="6.1" font-weight="bold" text-anchor="end" class="xl" transform="rotate(-45 575.51 310.60)">MB1433</text>
<line x1="586.65" y1="301.10" x2="586.65" y2="304.70" stroke="#000" stroke-width="1.4" />
<text x="588.45" y="310.60" font-size="6.1" font-weight="bold" text-anchor="end" class="xl" transform="rotate(-45 588.45 310.60)">BC838</text>
<line x1="599.59" y1="301.10" x2="599.59" y2="304.70" stroke="#000" stroke-width="1.4" />
<text x="601.39" y="310.60" font-size="6.1" font-weight="bold" text-anchor="end" class="xl" transform="rotate(-45 601.39 310.60)">FR1565</text>
<line x1="612.53" y1="301.10" x2="612.53" y2="304.70" stroke="#000" stroke-width="1.4" />
<text x="614.33" y="310.60" font-size="6.1" font-weight="bold" text-anchor="end" class="xl" transform="rotate(-45 614.33 310.60)">BC1173</text>
<line x1="625.47" y1="301.10" x2="625.47" y2="304.70" stroke="#000" stroke-width="1.4" />
<text x="627.27" y="310.60" font-size="6.1" font-weight="bold" text-anchor="end" class="xl" transform="rotate(-45 627.27 310.60)">BC1169</text>
<line x1="638.41" y1="301.10" x2="638.41" y2="304.70" stroke="#000" stroke-width="1.4" />
<text x="640.21" y="310.60" font-size="6.1" font-weight="bold" text-anchor="end" class="xl" transform="rotate(-45 640.21 310.60)">EC529</text>
<line x1="651.35" y1="301.10" x2="651.35" y2="304.70" stroke="#000" stroke-width="1.4" />
<text x="653.15" y="310.60" font-size="6.1" font-weight="bold" text-anchor="end" class="xl" transform="rotate(-45 653.15 310.60)">EC944</text>
<line x1="664.29" y1="301.10" x2="664.29" y2="304.70" stroke="#000" stroke-width="1.4" />
<text x="666.09" y="310.60" font-size="6.1" font-weight="bold" text-anchor="end" class="xl" transform="rotate(-45 666.09 310.60)">FR1221</text>
<line x1="677.23" y1="301.10" x2="677.23" y2="304.70" stroke="#000" stroke-width="1.4" />
<text x="679.03" y="310.60" font-size="6.1" font-weight="bold" text-anchor="end" class="xl" transform="rotate(-45 679.03 310.60)">UGZ626</text>
<text x="372.00" y="261.00" font-size="6.7" font-weight="bold" text-anchor="middle" transform="rotate(-90 372.00 261.00)">sCD40L (Log<tspan font-size="4.42" dy="2.28">2</tspan><tspan dy="-2.28"> Fold-Change)</tspan></text>
<rect x="30.80" y="448.75" width="3.10" height="0.81" fill="#000000"/>
<rect x="35.65" y="448.75" width="3.10" height="15.94" fill="#ff0066"/>
<rect x="43.74" y="443.28" width="3.10" height="5.47" fill="#000000"/>
<rect x="48.59" y="440.70" width="3.10" height="8.05" fill="#ff0066"/>
<rect x="56.68" y="448.75" width="3.10" height="8.86" fill="#000000"/>
<rect x="61.53" y="448.75" width="3.10" height="9.66" fill="#ff0066"/>
<rect x="69.62" y="447.14" width="3.10" height="1.61" fill="#000000"/>
<rect x="74.47" y="448.75" width="3.10" height="30.11" fill="#ff0066"/>
<rect x="82.56" y="440.70" width="3.10" height="8.05" fill="#000000"/>
<rect x="87.41" y="448.75" width="3.10" height="6.28" fill="#ff0066"/>
<rect x="95.50" y="447.94" width="3.10" height="0.81" fill="#000000"/>
<rect x="100.35" y="448.75" width="3.10" height="1.93" fill="#ff0066"/>
<rect x="108.44" y="446.66" width="3.10" height="2.09" fill="#000000"/>
<rect x="113.29" y="448.75" width="3.10" height="7.25" fill="#ff0066"/>
<rect x="121.38" y="448.75" width="3.10" height="2.90" fill="#000000"/>
<rect x="126.23" y="448.75" width="3.10" height="0.32" fill="#ff0066"/>
<rect x="134.32" y="441.83" width="3.10" height="6.92" fill="#000000"/>
<rect x="139.17" y="441.50" width="3.10" height="7.25" fill="#ff0066"/>
<rect x="147.26" y="428.62" width="3.10" height="20.12" fill="#000000"/>
<rect x="152.11" y="448.75" width="3.10" height="7.25" fill="#ff0066"/>
<rect x="160.20" y="448.75" width="3.10" height="0.81" fill="#000000"/>
<rect x="165.05" y="448.27" width="3.10" height="0.48" fill="#ff0066"/>
<rect x="173.14" y="441.83" width="3.10" height="6.92" fill="#000000"/>
<rect x="177.99" y="443.28" width="3.10" height="5.47" fill="#ff0066"/>
<rect x="186.08" y="448.75" width="3.10" height="0.48" fill="#000000"/>
<rect x="190.93" y="448.75" width="3.10" height="4.35" fill="#ff0066"/>
<rect x="199.02" y="447.94" width="3.10" height="0.81" fill="#000000"/>
<rect x="203.87" y="441.34" width="3.10" height="7.41" fill="#ff0066"/>
<rect x="211.96" y="447.46" width="3.10" height="1.29" fill="#000000"/>
<rect x="216.81" y="439.89" width="3.10" height="8.86" fill="#ff0066"/>
<rect x="224.90" y="443.60" width="3.10" height="5.15" fill="#000000"/>
<rect x="229.75" y="428.95" width="3.10" height="19.80" fill="#ff0066"/>
<rect x="237.84" y="448.75" width="3.10" height="2.74" fill="#000000"/>
<rect x="242.69" y="445.53" width="3.10" height="3.22" fill="#ff0066"/>
<rect x="250.78" y="437.16" width="3.10" height="11.59" fill="#000000"/>
<rect x="255.63" y="431.36" width="3.10" height="17.39" fill="#ff0066"/>
<rect x="263.72" y="426.05" width="3.10" height="22.70" fill="#000000"/>
<rect x="268.57" y="428.95" width="3.10" height="19.80" fill="#ff0066"/>
<rect x="276.66" y="436.35" width="3.10" height="12.40" fill="#000000"/>
<rect x="281.51" y="430.40" width="3.10" height="18.35" fill="#ff0066"/>
<rect x="289.60" y="435.39" width="3.10" height="13.36" fill="#000000"/>
<rect x="294.45" y="443.12" width="3.10" height="5.63" fill="#ff0066"/>
<rect x="302.54" y="434.26" width="3.10" height="14.49" fill="#000000"/>
<rect x="307.39" y="425.08" width="3.10" height="23.67" fill="#ff0066"/>
<rect x="315.48" y="415.26" width="3.10" height="33.49" fill="#000000"/>
<rect x="320.33" y="431.36" width="3.10" height="17.39" fill="#ff0066"/>
<line x1="67.30" y1="397.30" x2="67.30" y2="480.80" stroke="#111" stroke-width="1.2" stroke-dasharray="2 2"/>
<line x1="93.40" y1="397.30" x2="93.40" y2="480.80" stroke="#111" stroke-width="1.2" stroke-dasharray="2 2"/>
<line x1="196.90" y1="397.30" x2="196.90" y2="480.80" stroke="#111" stroke-width="1.2" stroke-dasharray="2 2"/>
<line x1="236.40" y1="397.30" x2="236.40" y2="480.80" stroke="#111" stroke-width="1.2" stroke-dasharray="2 2"/>
<line x1="248.20" y1="397.30" x2="248.20" y2="480.80" stroke="#111" stroke-width="1.2" stroke-dasharray="2 2"/>
<line x1="287.80" y1="397.30" x2="287.80" y2="480.80" stroke="#111" stroke-width="1.2" stroke-dasharray="2 2"/>
<line x1="29.10" y1="399.80" x2="29.10" y2="481.50" stroke="#000" stroke-width="1.4" />
<line x1="29.10" y1="480.80" x2="325.80" y2="480.80" stroke="#000" stroke-width="1.4" />
<line x1="29.10" y1="448.75" x2="325.80" y2="448.75" stroke="#000" stroke-width="1.4" />
<line x1="25.50" y1="400.45" x2="29.10" y2="400.45" stroke="#000" stroke-width="1.4" />
<text x="24.40" y="402.75" font-size="6.4" font-weight="bold" text-anchor="end" >3</text>
<line x1="25.50" y1="416.55" x2="29.10" y2="416.55" stroke="#000" stroke-width="1.4" />
<text x="24.40" y="418.85" font-size="6.4" font-weight="bold" text-anchor="end" >2</text>
<line x1="25.50" y1="432.65" x2="29.10" y2="432.65" stroke="#000" stroke-width="1.4" />
<text x="24.40" y="434.95" font-size="6.4" font-weight="bold" text-anchor="end" >1</text>
<line x1="25.50" y1="448.75" x2="29.10" y2="448.75" stroke="#000" stroke-width="1.4" />
<text x="24.40" y="451.05" font-size="6.4" font-weight="bold" text-anchor="end" >0</text>
<line x1="25.50" y1="464.85" x2="29.10" y2="464.85" stroke="#000" stroke-width="1.4" />
<text x="24.40" y="467.15" font-size="6.4" font-weight="bold" text-anchor="end" >-1</text>
<line x1="25.50" y1="480.95" x2="29.10" y2="480.95" stroke="#000" stroke-width="1.4" />
<text x="24.40" y="483.25" font-size="6.4" font-weight="bold" text-anchor="end" >-2</text>
<line x1="34.70" y1="480.80" x2="34.70" y2="484.40" stroke="#000" stroke-width="1.4" />
<text x="36.50" y="490.30" font-size="6.1" font-weight="bold" text-anchor="end" class="xl" transform="rotate(-45 36.50 490.30)">NV 289</text>
<line x1="47.64" y1="480.80" x2="47.64" y2="484.40" stroke="#000" stroke-width="1.4" />
<text x="49.44" y="490.30" font-size="6.1" font-weight="bold" text-anchor="end" class="xl" transform="rotate(-45 49.44 490.30)">NV 259</text>
<line x1="60.58" y1="480.80" x2="60.58" y2="484.40" stroke="#000" stroke-width="1.4" />
<text x="62.38" y="490.30" font-size="6.1" font-weight="bold" text-anchor="end" class="xl" transform="rotate(-45 62.38 490.30)">UG 171</text>
<line x1="73.52" y1="480.80" x2="73.52" y2="484.40" stroke="#000" stroke-width="1.4" />
<text x="75.32" y="490.30" font-size="6.1" font-weight="bold" text-anchor="end" class="xl" transform="rotate(-45 75.32 490.30)">UG 253A</text>
<line x1="86.46" y1="480.80" x2="86.46" y2="484.40" stroke="#000" stroke-width="1.4" />
<text x="88.26" y="490.30" font-size="6.1" font-weight="bold" text-anchor="end" class="xl" transform="rotate(-45 88.26 490.30)">BC 407</text>
<line x1="99.40" y1="480.80" x2="99.40" y2="484.40" stroke="#000" stroke-width="1.4" />
<text x="101.20" y="490.30" font-size="6.1" font-weight="bold" text-anchor="end" class="xl" transform="rotate(-45 101.20 490.30)">FR 423A</text>
<line x1="112.34" y1="480.80" x2="112.34" y2="484.40" stroke="#000" stroke-width="1.4" />
<text x="114.14" y="490.30" font-size="6.1" font-weight="bold" text-anchor="end" class="xl" transform="rotate(-45 114.14 490.30)">SB 393</text>
<line x1="125.28" y1="480.80" x2="125.28" y2="484.40" stroke="#000" stroke-width="1.4" />
<text x="127.08" y="490.30" font-size="6.1" font-weight="bold" text-anchor="end" class="xl" transform="rotate(-45 127.08 490.30)">CP 60</text>
<line x1="138.22" y1="480.80" x2="138.22" y2="484.40" stroke="#000" stroke-width="1.4" />
<text x="140.02" y="490.30" font-size="6.1" font-weight="bold" text-anchor="end" class="xl" transform="rotate(-45 140.02 490.30)">SB 395</text>
<line x1="151.16" y1="480.80" x2="151.16" y2="484.40" stroke="#000" stroke-width="1.4" />
<text x="152.96" y="490.30" font-size="6.1" font-weight="bold" text-anchor="end" class="xl" transform="rotate(-45 152.96 490.30)">BC 116</text>
<line x1="164.10" y1="480.80" x2="164.10" y2="484.40" stroke="#000" stroke-width="1.4" />
<text x="165.90" y="490.30" font-size="6.1" font-weight="bold" text-anchor="end" class="xl" transform="rotate(-45 165.90 490.30)">FR 469</text>
<line x1="177.04" y1="480.80" x2="177.04" y2="484.40" stroke="#000" stroke-width="1.4" />
<text x="178.84" y="490.30" font-size="6.1" font-weight="bold" text-anchor="end" class="xl" transform="rotate(-45 178.84 490.30)">BC 167</text>
<line x1="189.98" y1="480.80" x2="189.98" y2="484.40" stroke="#000" stroke-width="1.4" />
<text x="191.78" y="490.30" font-size="6.1" font-weight="bold" text-anchor="end" class="xl" transform="rotate(-45 191.78 490.30)">FR 646</text>
<line x1="202.92" y1="480.80" x2="202.92" y2="484.40" stroke="#000" stroke-width="1.4" />
<text x="204.72" y="490.30" font-size="6.1" font-weight="bold" text-anchor="end" class="xl" transform="rotate(-45 204.72 490.30)">BC940</text>
<line x1="215.86" y1="480.80" x2="215.86" y2="484.40" stroke="#000" stroke-width="1.4" />
<text x="217.66" y="490.30" font-size="6.1" font-weight="bold" text-anchor="end" class="xl" transform="rotate(-45 217.66 490.30)">MB1433</text>
<line x1="228.80" y1="480.80" x2="228.80" y2="484.40" stroke="#000" stroke-width="1.4" />
<text x="230.60" y="490.30" font-size="6.1" font-weight="bold" text-anchor="end" class="xl" transform="rotate(-45 230.60 490.30)">BC838</text>
<line x1="241.74" y1="480.80" x2="241.74" y2="484.40" stroke="#000" stroke-width="1.4" />
<text x="243.54" y="490.30" font-size="6.1" font-weight="bold" text-anchor="end" class="xl" transform="rotate(-45 243.54 490.30)">FR1565</text>
<line x1="254.68" y1="480.80" x2="254.68" y2="484.40" stroke="#000" stroke-width="1.4" />
<text x="256.48" y="490.30" font-size="6.1" font-weight="bold" text-anchor="end" class="xl" transform="rotate(-45 256.48 490.30)">BC1173</text>
<line x1="267.62" y1="480.80" x2="267.62" y2="484.40" stroke="#000" stroke-width="1.4" />
<text x="269.42" y="490.30" font-size="6.1" font-weight="bold" text-anchor="end" class="xl" transform="rotate(-45 269.42 490.30)">BC1169</text>
<line x1="280.56" y1="480.80" x2="280.56" y2="484.40" stroke="#000" stroke-width="1.4" />
<text x="282.36" y="490.30" font-size="6.1" font-weight="bold" text-anchor="end" class="xl" transform="rotate(-45 282.36 490.30)">EC529</text>
<line x1="293.50" y1="480.80" x2="293.50" y2="484.40" stroke="#000" stroke-width="1.4" />
<text x="295.30" y="490.30" font-size="6.1" font-weight="bold" text-anchor="end" class="xl" transform="rotate(-45 295.30 490.30)">EC944</text>
<line x1="306.44" y1="480.80" x2="306.44" y2="484.40" stroke="#000" stroke-width="1.4" />
<text x="308.24" y="490.30" font-size="6.1" font-weight="bold" text-anchor="end" class="xl" transform="rotate(-45 308.24 490.30)">FR1221</text>
<line x1="319.38" y1="480.80" x2="319.38" y2="484.40" stroke="#000" stroke-width="1.4" />
<text x="321.18" y="490.30" font-size="6.1" font-weight="bold" text-anchor="end" class="xl" transform="rotate(-45 321.18 490.30)">UGZ626</text>
<text x="13.00" y="440.65" font-size="6.7" font-weight="bold" text-anchor="middle" transform="rotate(-90 13.00 440.65)">IL-8 (Log<tspan font-size="4.42" dy="2.28">2</tspan><tspan dy="-2.28"> Fold-Change)</tspan></text>
<rect x="388.95" y="440.55" width="3.10" height="5.80" fill="#000000"/>
<rect x="393.80" y="440.55" width="3.10" height="16.60" fill="#ff0066"/>
<rect x="401.89" y="440.55" width="3.10" height="10.20" fill="#000000"/>
<rect x="406.74" y="428.55" width="3.10" height="12.00" fill="#ff0066"/>
<rect x="414.83" y="440.55" width="3.10" height="1.90" fill="#000000"/>
<rect x="419.68" y="435.75" width="3.10" height="4.80" fill="#ff0066"/>
<rect x="427.77" y="440.55" width="3.10" height="0.80" fill="#000000"/>
<rect x="432.62" y="440.55" width="3.10" height="22.40" fill="#ff0066"/>
<rect x="440.71" y="418.95" width="3.10" height="21.60" fill="#000000"/>
<rect x="445.56" y="421.25" width="3.10" height="19.30" fill="#ff0066"/>
<rect x="453.65" y="430.15" width="3.10" height="10.40" fill="#000000"/>
<rect x="458.50" y="416.25" width="3.10" height="24.30" fill="#ff0066"/>
<rect x="466.59" y="440.55" width="3.10" height="1.90" fill="#000000"/>
<rect x="471.44" y="440.55" width="3.10" height="14.10" fill="#ff0066"/>
<rect x="479.53" y="440.55" width="3.10" height="8.30" fill="#000000"/>
<rect x="484.38" y="440.55" width="3.10" height="16.60" fill="#ff0066"/>
<rect x="492.47" y="440.55" width="3.10" height="3.10" fill="#000000"/>
<rect x="497.32" y="440.55" width="3.10" height="17.00" fill="#ff0066"/>
<rect x="505.41" y="438.25" width="3.10" height="2.30" fill="#000000"/>
<rect x="510.26" y="440.55" width="3.10" height="8.30" fill="#ff0066"/>
<rect x="518.35" y="440.55" width="3.10" height="11.20" fill="#000000"/>
<rect x="523.20" y="429.55" width="3.10" height="11.00" fill="#ff0066"/>
<rect x="531.29" y="440.55" width="3.10" height="-0.00" fill="#000000"/>
<rect x="536.14" y="435.55" width="3.10" height="5.00" fill="#ff0066"/>
<rect x="544.23" y="432.05" width="3.10" height="8.50" fill="#000000"/>
<rect x="549.08" y="438.25" width="3.10" height="2.30" fill="#ff0066"/>
<rect x="557.17" y="427.55" width="3.10" height="13.00" fill="#000000"/>
<rect x="562.02" y="431.45" width="3.10" height="9.10" fill="#ff0066"/>
<rect x="570.11" y="428.15" width="3.10" height="12.40" fill="#000000"/>
<rect x="574.96" y="440.55" width="3.10" height="4.00" fill="#ff0066"/>
<rect x="583.05" y="440.55" width="3.10" height="1.90" fill="#000000"/>
<rect x="587.90" y="440.55" width="3.10" height="38.20" fill="#ff0066"/>
<rect x="595.99" y="440.55" width="3.10" height="1.50" fill="#000000"/>
<rect x="600.84" y="440.55" width="3.10" height="12.70" fill="#ff0066"/>
<rect x="608.93" y="429.95" width="3.10" height="10.60" fill="#000000"/>
<rect x="613.78" y="440.55" width="3.10" height="5.00" fill="#ff0066"/>
<rect x="621.87" y="440.55" width="3.10" height="10.20" fill="#000000"/>
<rect x="626.72" y="440.55" width="3.10" height="1.90" fill="#ff0066"/>
<rect x="634.81" y="440.55" width="3.10" height="10.20" fill="#000000"/>
<rect x="639.66" y="440.55" width="3.10" height="13.10" fill="#ff0066"/>
<rect x="647.75" y="440.55" width="3.10" height="1.90" fill="#000000"/>
<rect x="652.60" y="440.55" width="3.10" height="8.90" fill="#ff0066"/>
<rect x="660.69" y="440.55" width="3.10" height="16.40" fill="#000000"/>
<rect x="665.54" y="440.55" width="3.10" height="13.10" fill="#ff0066"/>
<rect x="673.63" y="437.25" width="3.10" height="3.30" fill="#000000"/>
<rect x="678.48" y="434.35" width="3.10" height="6.20" fill="#ff0066"/>
<line x1="425.80" y1="397.30" x2="425.80" y2="480.80" stroke="#111" stroke-width="1.2" stroke-dasharray="2 2"/>
<line x1="451.80" y1="397.30" x2="451.80" y2="480.80" stroke="#111" stroke-width="1.2" stroke-dasharray="2 2"/>
<line x1="555.00" y1="397.30" x2="555.00" y2="480.80" stroke="#111" stroke-width="1.2" stroke-dasharray="2 2"/>
<line x1="594.50" y1="397.30" x2="594.50" y2="480.80" stroke="#111" stroke-width="1.2" stroke-dasharray="2 2"/>
<line x1="606.30" y1="397.30" x2="606.30" y2="480.80" stroke="#111" stroke-width="1.2" stroke-dasharray="2 2"/>
<line x1="645.70" y1="397.30" x2="645.70" y2="480.80" stroke="#111" stroke-width="1.2" stroke-dasharray="2 2"/>
<line x1="387.20" y1="399.80" x2="387.20" y2="481.50" stroke="#000" stroke-width="1.4" />
<line x1="387.20" y1="480.80" x2="683.50" y2="480.80" stroke="#000" stroke-width="1.4" />
<line x1="387.20" y1="440.55" x2="683.50" y2="440.55" stroke="#000" stroke-width="1.4" />
<line x1="383.60" y1="400.55" x2="387.20" y2="400.55" stroke="#000" stroke-width="1.4" />
<text x="383.00" y="402.85" font-size="6.4" font-weight="bold" text-anchor="end" >4</text>
<line x1="383.60" y1="420.55" x2="387.20" y2="420.55" stroke="#000" stroke-width="1.4" />
<text x="383.00" y="422.85" font-size="6.4" font-weight="bold" text-anchor="end" >2</text>
<line x1="383.60" y1="440.55" x2="387.20" y2="440.55" stroke="#000" stroke-width="1.4" />
<text x="383.00" y="442.85" font-size="6.4" font-weight="bold" text-anchor="end" >0</text>
<line x1="383.60" y1="460.55" x2="387.20" y2="460.55" stroke="#000" stroke-width="1.4" />
<text x="383.00" y="462.85" font-size="6.4" font-weight="bold" text-anchor="end" >-2</text>
<line x1="383.60" y1="480.55" x2="387.20" y2="480.55" stroke="#000" stroke-width="1.4" />
<text x="383.00" y="482.85" font-size="6.4" font-weight="bold" text-anchor="end" >-4</text>
<line x1="392.85" y1="480.80" x2="392.85" y2="484.40" stroke="#000" stroke-width="1.4" />
<text x="394.65" y="490.30" font-size="6.1" font-weight="bold" text-anchor="end" class="xl" transform="rotate(-45 394.65 490.30)">NV 289</text>
<line x1="405.79" y1="480.80" x2="405.79" y2="484.40" stroke="#000" stroke-width="1.4" />
<text x="407.59" y="490.30" font-size="6.1" font-weight="bold" text-anchor="end" class="xl" transform="rotate(-45 407.59 490.30)">NV 259</text>
<line x1="418.73" y1="480.80" x2="418.73" y2="484.40" stroke="#000" stroke-width="1.4" />
<text x="420.53" y="490.30" font-size="6.1" font-weight="bold" text-anchor="end" class="xl" transform="rotate(-45 420.53 490.30)">UG 171</text>
<line x1="431.67" y1="480.80" x2="431.67" y2="484.40" stroke="#000" stroke-width="1.4" />
<text x="433.47" y="490.30" font-size="6.1" font-weight="bold" text-anchor="end" class="xl" transform="rotate(-45 433.47 490.30)">UG 253A</text>
<line x1="444.61" y1="480.80" x2="444.61" y2="484.40" stroke="#000" stroke-width="1.4" />
<text x="446.41" y="490.30" font-size="6.1" font-weight="bold" text-anchor="end" class="xl" transform="rotate(-45 446.41 490.30)">BC 407</text>
<line x1="457.55" y1="480.80" x2="457.55" y2="484.40" stroke="#000" stroke-width="1.4" />
<text x="459.35" y="490.30" font-size="6.1" font-weight="bold" text-anchor="end" class="xl" transform="rotate(-45 459.35 490.30)">FR 423A</text>
<line x1="470.49" y1="480.80" x2="470.49" y2="484.40" stroke="#000" stroke-width="1.4" />
<text x="472.29" y="490.30" font-size="6.1" font-weight="bold" text-anchor="end" class="xl" transform="rotate(-45 472.29 490.30)">SB 393</text>
<line x1="483.43" y1="480.80" x2="483.43" y2="484.40" stroke="#000" stroke-width="1.4" />
<text x="485.23" y="490.30" font-size="6.1" font-weight="bold" text-anchor="end" class="xl" transform="rotate(-45 485.23 490.30)">CP 60</text>
<line x1="496.37" y1="480.80" x2="496.37" y2="484.40" stroke="#000" stroke-width="1.4" />
<text x="498.17" y="490.30" font-size="6.1" font-weight="bold" text-anchor="end" class="xl" transform="rotate(-45 498.17 490.30)">SB 395</text>
<line x1="509.31" y1="480.80" x2="509.31" y2="484.40" stroke="#000" stroke-width="1.4" />
<text x="511.11" y="490.30" font-size="6.1" font-weight="bold" text-anchor="end" class="xl" transform="rotate(-45 511.11 490.30)">BC 116</text>
<line x1="522.25" y1="480.80" x2="522.25" y2="484.40" stroke="#000" stroke-width="1.4" />
<text x="524.05" y="490.30" font-size="6.1" font-weight="bold" text-anchor="end" class="xl" transform="rotate(-45 524.05 490.30)">FR 469</text>
<line x1="535.19" y1="480.80" x2="535.19" y2="484.40" stroke="#000" stroke-width="1.4" />
<text x="536.99" y="490.30" font-size="6.1" font-weight="bold" text-anchor="end" class="xl" transform="rotate(-45 536.99 490.30)">BC 167</text>
<line x1="548.13" y1="480.80" x2="548.13" y2="484.40" stroke="#000" stroke-width="1.4" />
<text x="549.93" y="490.30" font-size="6.1" font-weight="bold" text-anchor="end" class="xl" transform="rotate(-45 549.93 490.30)">FR 646</text>
<line x1="561.07" y1="480.80" x2="561.07" y2="484.40" stroke="#000" stroke-width="1.4" />
<text x="562.87" y="490.30" font-size="6.1" font-weight="bold" text-anchor="end" class="xl" transform="rotate(-45 562.87 490.30)">BC940</text>
<line x1="574.01" y1="480.80" x2="574.01" y2="484.40" stroke="#000" stroke-width="1.4" />
<text x="575.81" y="490.30" font-size="6.1" font-weight="bold" text-anchor="end" class="xl" transform="rotate(-45 575.81 490.30)">MB1433</text>
<line x1="586.95" y1="480.80" x2="586.95" y2="484.40" stroke="#000" stroke-width="1.4" />
<text x="588.75" y="490.30" font-size="6.1" font-weight="bold" text-anchor="end" class="xl" transform="rotate(-45 588.75 490.30)">BC838</text>
<line x1="599.89" y1="480.80" x2="599.89" y2="484.40" stroke="#000" stroke-width="1.4" />
<text x="601.69" y="490.30" font-size="6.1" font-weight="bold" text-anchor="end" class="xl" transform="rotate(-45 601.69 490.30)">FR1565</text>
<line x1="612.83" y1="480.80" x2="612.83" y2="484.40" stroke="#000" stroke-width="1.4" />
<text x="614.63" y="490.30" font-size="6.1" font-weight="bold" text-anchor="end" class="xl" transform="rotate(-45 614.63 490.30)">BC1173</text>
<line x1="625.77" y1="480.80" x2="625.77" y2="484.40" stroke="#000" stroke-width="1.4" />
<text x="627.57" y="490.30" font-size="6.1" font-weight="bold" text-anchor="end" class="xl" transform="rotate(-45 627.57 490.30)">BC1169</text>
<line x1="638.71" y1="480.80" x2="638.71" y2="484.40" stroke="#000" stroke-width="1.4" />
<text x="640.51" y="490.30" font-size="6.1" font-weight="bold" text-anchor="end" class="xl" transform="rotate(-45 640.51 490.30)">EC529</text>
<line x1="651.65" y1="480.80" x2="651.65" y2="484.40" stroke="#000" stroke-width="1.4" />
<text x="653.45" y="490.30" font-size="6.1" font-weight="bold" text-anchor="end" class="xl" transform="rotate(-45 653.45 490.30)">EC944</text>
<line x1="664.59" y1="480.80" x2="664.59" y2="484.40" stroke="#000" stroke-width="1.4" />
<text x="666.39" y="490.30" font-size="6.1" font-weight="bold" text-anchor="end" class="xl" transform="rotate(-45 666.39 490.30)">FR1221</text>
<line x1="677.53" y1="480.80" x2="677.53" y2="484.40" stroke="#000" stroke-width="1.4" />
<text x="679.33" y="490.30" font-size="6.1" font-weight="bold" text-anchor="end" class="xl" transform="rotate(-45 679.33 490.30)">UGZ626</text>
<text x="372.00" y="440.65" font-size="6.7" font-weight="bold" text-anchor="middle" transform="rotate(-90 372.00 440.65)">VEGf (Log<tspan font-size="4.42" dy="2.28">2</tspan><tspan dy="-2.28"> Fold-Change)</tspan></text>
<text x="0.00" y="30.20" font-size="20.5" font-weight="bold" text-anchor="start" >a</text>
<text x="365.50" y="31.80" font-size="20.5" font-weight="bold" text-anchor="start" >b</text>
<text x="0.00" y="201.80" font-size="20.5" font-weight="bold" text-anchor="start" >c</text>
<text x="365.30" y="201.60" font-size="20.5" font-weight="bold" text-anchor="start" >d</text>
<text x="0.00" y="385.30" font-size="20.5" font-weight="bold" text-anchor="start" >e</text>
<text x="362.50" y="385.00" font-size="20.5" font-weight="bold" text-anchor="start" >f</text>
<text x="113.50" y="9.00" font-size="11.7" font-weight="bold" text-anchor="start" >Cytokine Levels in FR1565</text>
<text x="509.50" y="9.00" font-size="11.7" font-weight="bold" text-anchor="start" >IL1-Ra</text>
<text x="147.80" y="194.50" font-size="11.7" font-weight="bold" text-anchor="start" >MCP-1</text>
<text x="507.90" y="199.00" font-size="11.7" font-weight="bold" text-anchor="start" >sCD40L</text>
<text x="147.80" y="383.40" font-size="11.7" font-weight="bold" text-anchor="start" >IL-8</text>
<text x="519.20" y="383.70" font-size="11.7" font-weight="bold" text-anchor="start" >VEGf</text>
<rect x="110.00" y="24.00" width="15.50" height="7.30" fill="#c46000"/>
<text x="134.20" y="31.80" font-size="11.8" font-weight="normal" text-anchor="start" >5 DPI</text>
<rect x="200.00" y="24.00" width="15.60" height="7.30" fill="#005a00"/>
<text x="224.00" y="31.80" font-size="11.8" font-weight="normal" text-anchor="start" >9 DPI</text>
<rect x="466.40" y="24.00" width="15.40" height="7.30" fill="#000000"/>
<text x="490.10" y="31.80" font-size="11.8" font-weight="normal" text-anchor="start" >5 DPI</text>
<rect x="544.90" y="24.00" width="15.50" height="7.30" fill="#ff0066"/>
<text x="569.80" y="31.80" font-size="11.8" font-weight="normal" text-anchor="start" >14 DPI</text>
<text x="166.10" y="518.00" font-size="6.8" font-weight="bold" text-anchor="start" >NHP ID</text>
<text x="524.10" y="518.00" font-size="6.8" font-weight="bold" text-anchor="start" >NHP ID</text>
</svg></body></html>
